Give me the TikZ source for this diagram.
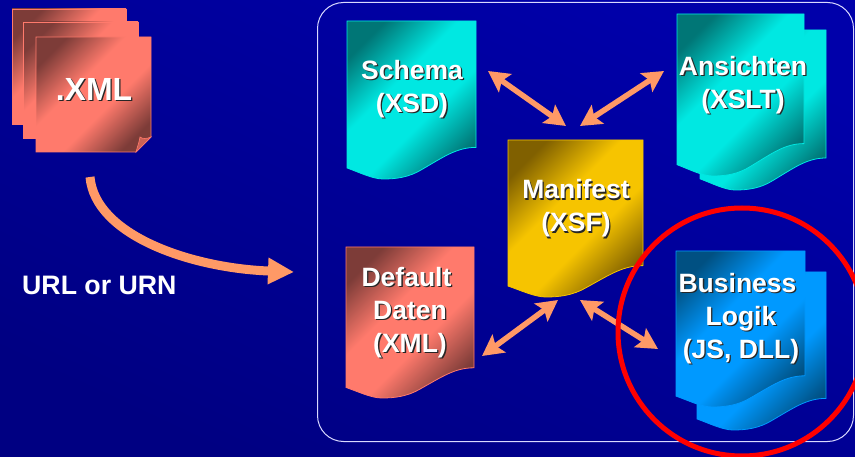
\documentclass[tikz,border=0pt]{standalone}
\usepackage{fontspec}
\setmainfont{Liberation Sans}
\usetikzlibrary{arrows.meta}
\definecolor{bgTop}{RGB}{0,0,170}
\definecolor{bgBot}{RGB}{0,0,130}
\definecolor{arrowOrange}{RGB}{255,153,102}
\definecolor{cyanB}{RGB}{0,232,226}\definecolor{cyanD}{RGB}{0,118,118}
\definecolor{blueB}{RGB}{0,153,255}\definecolor{blueD}{RGB}{0,80,130}
\definecolor{goldB}{RGB}{246,196,0}\definecolor{goldD}{RGB}{128,96,0}
\definecolor{salmonB}{RGB}{255,122,108}\definecolor{salmonD}{RGB}{125,60,56}
\pgfdeclareverticalshading{cyanShade}{100bp}{color(0bp)=(cyanD);color(24bp)=(cyanD);color(42bp)=(cyanB);color(58bp)=(cyanB);color(76bp)=(cyanD);color(100bp)=(cyanD)}
\pgfdeclareverticalshading{blueShade}{100bp}{color(0bp)=(blueD);color(24bp)=(blueD);color(42bp)=(blueB);color(58bp)=(blueB);color(76bp)=(blueD);color(100bp)=(blueD)}
\pgfdeclareverticalshading{goldShade}{100bp}{color(0bp)=(goldD);color(24bp)=(goldD);color(42bp)=(goldB);color(58bp)=(goldB);color(76bp)=(goldD);color(100bp)=(goldD)}
\pgfdeclareverticalshading{salmonShade}{100bp}{color(0bp)=(salmonD);color(24bp)=(salmonD);color(42bp)=(salmonB);color(58bp)=(salmonB);color(76bp)=(salmonD);color(100bp)=(salmonD)}
\pgfdeclareverticalshading{pageShade}{100bp}{color(0bp)=(salmonB);color(58bp)=(salmonB);color(76bp)=(salmonD);color(100bp)=(salmonD)}
\newcommand{\shtxt}[1]{\leavevmode\rlap{\kern1.3pt\raisebox{-1.3pt}{\textcolor{black!85}{#1}}}#1}
% x y w h palette
\newcommand{\docsheet}[5]{%
  \path[shading=#5Shade,shading angle=45,draw=#5B,line width=0.8pt]
    (#1pt,-#2pt) -- ++(#3pt,0pt)
    [x=#3pt,y=-#4pt,shift={(#1pt,-#2pt)}]
    -- (1,.80) .. controls (.85,.80) and (.75,.86) .. (.58,.94)
    .. controls (.48,.99) and (.38,1) .. (.28,1)
    .. controls (.2,1) and (.1,.96) .. (0,.93) -- cycle;}
\tikzset{
  lbl/.style={text=white,font=\bfseries\fontsize{26.5}{33}\selectfont,align=center,inner sep=0pt},
  twoway/.style={draw=arrowOrange,line width=5.5pt,{Stealth[length=21pt,width=22pt,inset=4pt]}-{Stealth[length=21pt,width=22pt,inset=4pt]}},
  pagesheet/.style={shading=pageShade,shading angle=45,draw=salmonB,line width=0.8pt}
}
\begin{document}
\begin{tikzpicture}[x=1pt,y=-1pt]
\useasboundingbox (0,0) rectangle (855,457);
\clip (0,0) rectangle (855,457);
\shade[bottom color=bgBot,top color=bgTop,shading angle=-25] (0,0) rectangle (855,457);

% container
\node[draw=white!85!blue,line width=1pt,rounded corners=26pt,minimum width=536pt,minimum height=439pt,inner sep=0pt,anchor=north west] (container) at (317,2) {};

% XML page stack
\path[pagesheet] (12,9) rectangle (126,124);
\path[pagesheet] (23,22) rectangle (138,138);
\path[shading=salmonShade,shading angle=45,draw=salmonB,line width=0.8pt] (36,37) -- (151,37) -- (151,137) -- (136,152) -- (36,152) -- cycle;
\path[fill=salmonB!80!black,draw=salmonB,line width=0.6pt] (151,137) .. controls (147,139) and (142,139) .. (140,137) .. controls (139,143) and (137,148) .. (136,152) -- cycle;
\node[text=white,font=\bfseries\fontsize{32}{36}\selectfont,inner sep=0pt] (xml) at (94,90) {\shtxt{.XML}};

% documents
\docsheet{347}{21}{129}{158}{cyan}
\docsheet{700}{30}{126}{160}{cyan}
\docsheet{677}{14}{127}{162}{cyan}
\docsheet{346}{247}{128}{151}{salmon}
\docsheet{508}{140}{135}{157}{gold}
\docsheet{697}{272}{129}{158}{blue}
\docsheet{676}{251}{129}{156}{blue}

% labels
\node[lbl] (schema) at (412,90) {\shtxt{Schema}\\\shtxt{(XSD)}};
\node[lbl] (ansichten) at (743,86) {\shtxt{Ansichten}\\\shtxt{(XSLT)}};
\node[lbl] (manifest) at (576,209) {\shtxt{Manifest}\\\shtxt{(XSF)}};
\node[lbl] (default) at (410,313) {\shtxt{Default}\kern7pt\\\shtxt{Daten}\\\shtxt{(XML)}};
\node[lbl] (business) at (741,319) {\shtxt{Business}\kern7pt\\\shtxt{Logik}\\\shtxt{(JS, DLL)}};
\node[text=white,font=\bfseries\fontsize{26.7}{30}\selectfont,inner sep=0pt,anchor=west] (url) at (22,285) {URL or URN};

% arrow ends
\coordinate (s1) at (488,71);  \coordinate (m1) at (566,126);
\coordinate (a1) at (664,71);  \coordinate (m2) at (580,126);
\coordinate (d1) at (482,356); \coordinate (m3) at (558,300);
\coordinate (b1) at (658,349); \coordinate (m4) at (580,300);
\coordinate (cStart) at (90,177); \coordinate (cEnd) at (294,272);
\draw[twoway] (s1) -- (m1);
\draw[twoway] (a1) -- (m2);
\draw[twoway] (d1) -- (m3);
\draw[twoway] (b1) -- (m4);
\draw[draw=arrowOrange,line width=9pt,-{Triangle[length=26pt,width=25pt]}] (cStart) .. controls (95,235) and (190,268) .. (cEnd);

% highlight circle
\node[draw=red,line width=5pt,circle,minimum size=248pt,inner sep=0pt] (focus) at (742,332) {};
\end{tikzpicture}
\end{document}
